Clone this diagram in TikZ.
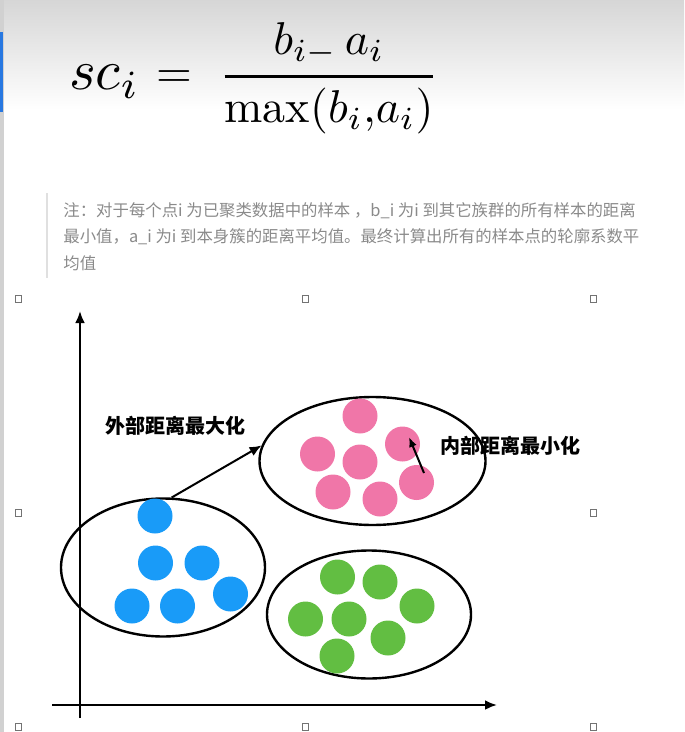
\documentclass[tikz,border=0pt]{standalone}
\usepackage{amsmath}
\usepackage{fontspec}
\newfontfamily\cjk{Noto Sans CJK SC}
\usetikzlibrary{arrows.meta,shapes.geometric}
\definecolor{dotblue}{RGB}{25,155,248}
\definecolor{dotpink}{RGB}{240,118,168}
\definecolor{dotgreen}{RGB}{98,190,66}
\definecolor{notegray}{RGB}{138,138,138}
\definecolor{barblue}{RGB}{40,120,225}

\begin{document}
\begin{tikzpicture}[x=0.5pt, y=-0.5pt,
  dot/.style={circle, inner sep=0pt, minimum size=17.5pt},
  bdot/.style={dot, fill=dotblue},
  pdot/.style={dot, fill=dotpink},
  gdot/.style={dot, fill=dotgreen},
  clu/.style={draw, ellipse, line width=1.2pt, inner sep=0pt},
  lbl/.style={font=\cjk\bfseries\fontsize{10}{12}\selectfont, inner sep=0pt},
  note/.style={font=\cjk\fontsize{8.2}{13.3}\selectfont, text=notegray, align=left, inner sep=0pt},
  handle/.style={draw=black!55, fill=white, line width=0.4pt, inner sep=0pt, minimum width=3pt, minimum height=3.5pt},
  axis/.style={-{Latex[length=6pt, width=5pt]}, line width=1.2pt},
  arr/.style={-{Latex[length=6pt, width=5pt]}, line width=1pt}]
\useasboundingbox (0,0) rectangle (684,732);
% screen background
\shade[top color=black!16, bottom color=white] (0,0) rectangle (684,110);
\fill[black!18] (0,0) rectangle (4,732);
\fill[barblue] (0,32) rectangle (3,112);
% formula
\node[anchor=base west, inner sep=0pt, scale=2.85] (sc) at (68,90) {$sc_i$};
\node[anchor=base, inner sep=0pt, scale=2.3] (eq) at (174,88) {$=$};
\node[anchor=base, inner sep=0pt, scale=2.3] (frac) at (329,88)
  {$\genfrac{}{}{0.7pt}{0}{b_{i-}\,a_i}{\max(b_i{,}a_i)}$};
% note
\draw[black!12, line width=1pt] (47,193) -- (47,278);
\node[note, anchor=north west] (txt) at (63,202)
  {注：对于每个点i 为已聚类数据中的样本 ，b\_i 为i 到其它族群的所有样本的距离\\
   最小值，a\_i 为i 到本身簇的距离平均值。最终计算出所有的样本点的轮廓系数平\\
   均值};
% selection handles
\node[handle] (h1) at (18,299) {};
\node[handle] (h2) at (305,299) {};
\node[handle] (h3) at (593,299) {};
\node[handle] (h4) at (18,513) {};
\node[handle] (h5) at (593,513) {};
\node[handle] (h6) at (18,727) {};
\node[handle] (h7) at (305,727) {};
\node[handle] (h8) at (593,727) {};
% axes
\coordinate (ybot) at (80,718);
\coordinate (ytop) at (80,311);
\coordinate (xlft) at (52,705);
\coordinate (xrgt) at (497,705);
\draw[axis] (ybot) -- (ytop);
\draw[axis] (xlft) -- (xrgt);
% clusters
\node[clu, minimum width=102pt, minimum height=69pt] (bell) at (163,567.5) {};
\node[clu, minimum width=113pt, minimum height=64pt] (pell) at (372.5,461) {};
\node[clu, minimum width=102pt, minimum height=64pt] (gell) at (369,614.5) {};
% blue points
\node[bdot] (b1) at (155,516) {};
\node[bdot] (b2) at (155.5,563) {};
\node[bdot] (b3) at (202,563) {};
\node[bdot] (b4) at (230.5,594) {};
\node[bdot] (b5) at (132,606) {};
\node[bdot] (b6) at (177.5,606) {};
% pink points
\node[pdot] (p1) at (360,416) {};
\node[pdot] (p2) at (402.5,444) {};
\node[pdot] (p3) at (317.5,454) {};
\node[pdot] (p4) at (360,462) {};
\node[pdot] (p5) at (416.5,482.5) {};
\node[pdot] (p6) at (333,492) {};
\node[pdot] (p7) at (380,499) {};
% green points
\node[gdot] (g1) at (337.5,577) {};
\node[gdot] (g2) at (380,582) {};
\node[gdot] (g3) at (417,606) {};
\node[gdot] (g4) at (305.5,619) {};
\node[gdot] (g5) at (349,619) {};
\node[gdot] (g6) at (388,638) {};
\node[gdot] (g7) at (337,656) {};
% distances
\draw[arr] (bell.83) -- (pell.172);
\coordinate (inS) at (424,473);
\coordinate (inE) at (409,437);
\draw[arr, -{Latex[length=5pt, width=4pt]}] (inS) -- (inE);
\node[lbl] (outl) at (175.5,426) {外部距离最大化};
\node[lbl] (inl) at (510,446) {内部距离最小化};
\end{tikzpicture}
\end{document}
